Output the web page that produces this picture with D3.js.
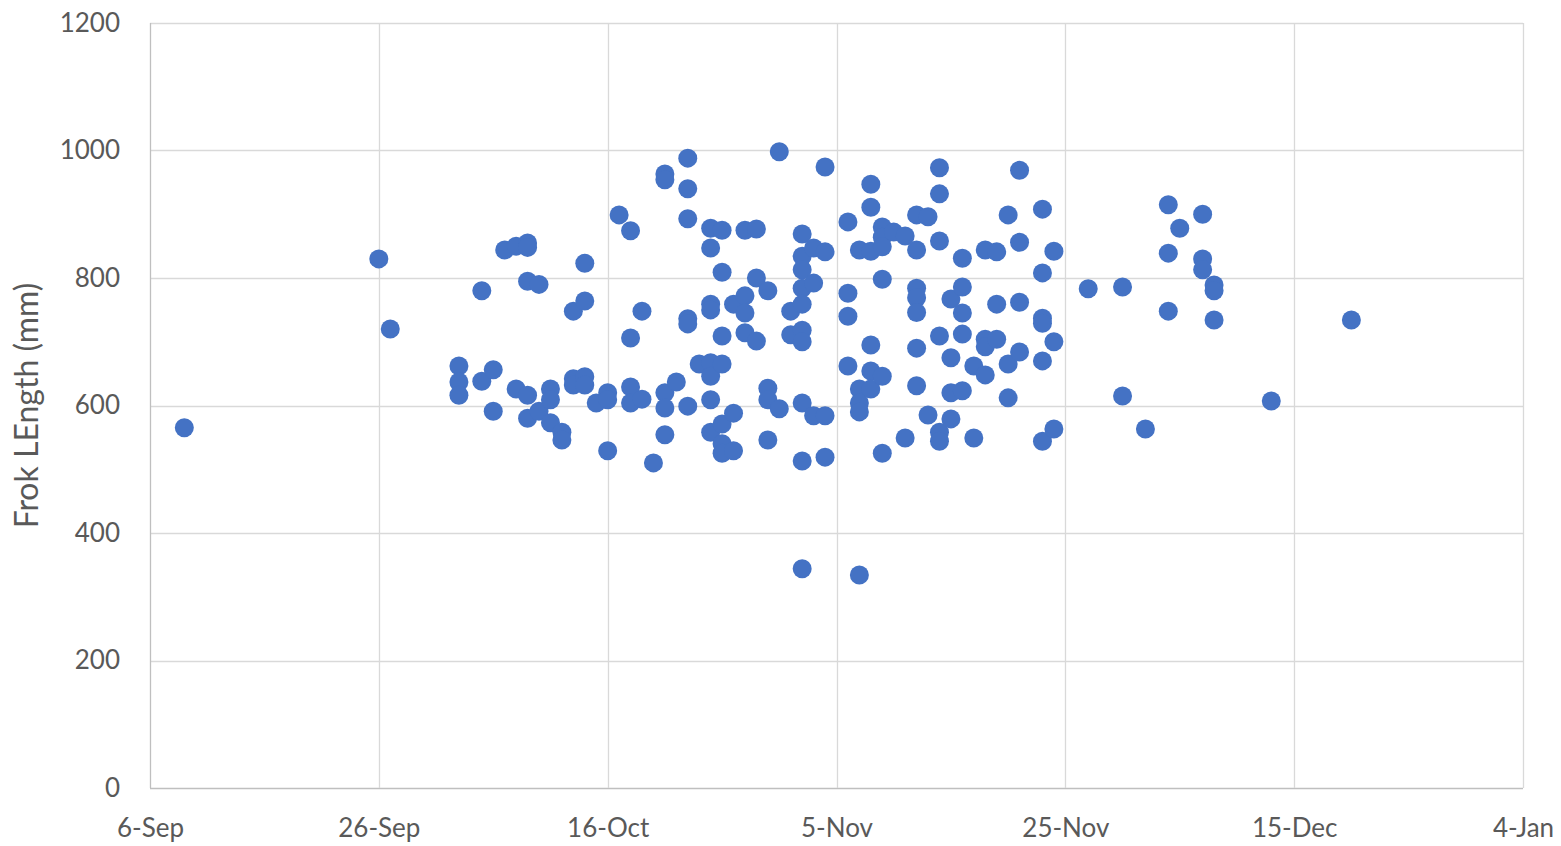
<!DOCTYPE html>
<html>
<head>
<meta charset="utf-8">
<script src="https://cdn.jsdelivr.net/npm/d3@7"></script>
<style>
  body { margin: 0; background: #fff; }
  text { font-family: Lato, "Open Sans", sans-serif; fill: #595959; }
</style>
</head>
<body>
<script>
// sample dates (one entry per day) and the fork lengths measured that day
var sampleDates = ["9-Sep", "26-Sep", "27-Sep", "3-Oct", "5-Oct", "6-Oct", "7-Oct", "8-Oct", "9-Oct",
    "10-Oct", "11-Oct", "12-Oct", "13-Oct", "14-Oct", "15-Oct", "16-Oct", "17-Oct", "18-Oct", "19-Oct",
    "20-Oct", "21-Oct", "22-Oct", "23-Oct", "24-Oct", "25-Oct", "26-Oct", "27-Oct", "28-Oct", "29-Oct",
    "30-Oct", "31-Oct", "1-Nov", "2-Nov", "3-Nov", "4-Nov", "6-Nov", "7-Nov", "8-Nov", "9-Nov",
    "10-Nov", "11-Nov", "12-Nov", "13-Nov", "14-Nov", "15-Nov", "16-Nov", "17-Nov", "18-Nov", "19-Nov",
    "20-Nov", "21-Nov", "23-Nov", "24-Nov", "27-Nov", "30-Nov", "2-Dec", "4-Dec", "5-Dec", "7-Dec",
    "8-Dec", "13-Dec", "20-Dec"];

var forkLengths = [
    [565], [830], [720], [662, 637, 616], [780, 638], [656, 591], [844], [850, 626],
    [855, 848, 795, 616, 580],
    [790, 591], [626, 609, 573], [558, 546], [748, 642, 632], [823, 764, 645, 632], [604],
    [620, 609, 529], [899], [874, 706, 629, 604], [748, 610],
    [510], [963, 954, 620, 596, 554], [637], [988, 940, 893, 736, 728, 599], [665],
    [878, 847, 759, 750, 667, 646, 609, 558], [875, 809, 709, 665, 571, 540, 525], [759, 588, 529],
    [875, 772, 745, 714], [877, 800, 701],
    [780, 627, 609, 546], [998, 595], [748, 711],
    [869, 834, 813, 784, 759, 718, 700, 604, 513, 344], [847, 792, 584], [974, 841, 584, 519],
    [888, 776, 740, 662], [844, 626, 604, 590, 334], [947, 911, 842, 695, 654, 626],
    [880, 864, 849, 798, 646, 525],
    [872], [866, 549], [899, 844, 784, 769, 746, 690, 631], [896, 585], [973, 932, 858, 709, 558, 544],
    [767, 675, 620, 579], [831, 786, 745, 712, 623], [662, 549], [844, 704, 692, 648], [841, 759, 704],
    [899, 665, 612], [969, 856, 762, 684], [908, 808, 737, 729, 670, 544], [842, 700, 563], [783],
    [786, 615], [563], [915, 839, 748], [878], [900, 830, 813],
    [789, 780, 734], [607], [734]];

var xStart = "6-Sep", xEnd = "4-Jan";
var yTicks = [0, 200, 400, 600, 800, 1000, 1200];
var yTitle = "Frok LEngth (mm)";

var parseDay = function(s) {
    // Jan belongs to the following year
    var yr = s.indexOf("Jan") > -1 ? 2019 : 2018;
    return d3.timeParse("%d-%b-%Y")(s + "-" + yr);
};

var points = [];
sampleDates.forEach(function(d, i) {
    forkLengths[i].forEach(function(v) {
        points.push({date: parseDay(d), value: v});
    });
});

var width = 1561, height = 846;
var plotLeft = 150, plotRight = 1523, plotTop = 23, plotBottom = 788;

var svg = d3.select("body").append("svg")
    .attr("width", width)
    .attr("height", height);

var x = d3.scaleTime()
    .domain([parseDay(xStart), parseDay(xEnd)])
    .range([plotLeft, plotRight]);

var y = d3.scaleLinear()
    .domain([0, 1200])
    .range([plotBottom, plotTop]);

var xTicks = d3.timeDay.range(parseDay(xStart), d3.timeDay.offset(parseDay(xEnd), 1))
    .filter(function(d, i) { return i % 20 == 0; });

// gridlines
svg.append("g").selectAll("line")
    .data(yTicks)
    .enter().append("line")
    .attr("x1", plotLeft).attr("x2", plotRight)
    .attr("y1", function(d) { return Math.round(y(d)) + 0.5; })
    .attr("y2", function(d) { return Math.round(y(d)) + 0.5; })
    .attr("stroke", function(d) { return d == 0 ? "#bfbfbf" : "#d9d9d9"; })
    .attr("stroke-width", 1.3);

svg.append("g").selectAll("line")
    .data(xTicks)
    .enter().append("line")
    .attr("x1", function(d) { return Math.round(x(d)) + 0.5; })
    .attr("x2", function(d) { return Math.round(x(d)) + 0.5; })
    .attr("y1", plotTop).attr("y2", plotBottom)
    .attr("stroke", function(d, i) { return i == 0 ? "#bfbfbf" : "#d9d9d9"; })
    .attr("stroke-width", 1.3);

// axes (labels only, Excel style)
var yAxis = svg.append("g")
    .attr("transform", "translate(" + (plotLeft - 30) + ",0)")
    .call(d3.axisLeft(y).tickValues(yTicks).tickFormat(d3.format("d")).tickSize(0).tickPadding(0));
yAxis.select(".domain").remove();
yAxis.selectAll("text").style("font-size", "26px").attr("fill", "#595959");

var xAxis = svg.append("g")
    .attr("transform", "translate(0," + (plotBottom + 31) + ")")
    .call(d3.axisBottom(x).tickValues(xTicks).tickFormat(d3.timeFormat("%-d-%b")).tickSize(0).tickPadding(0));
xAxis.select(".domain").remove();
xAxis.selectAll("text").style("font-size", "26px").attr("fill", "#595959");

svg.append("text")
    .attr("transform", "translate(38," + ((plotTop + plotBottom) / 2) + ") rotate(-90)")
    .attr("text-anchor", "middle")
    .style("font-size", "32px")
    .text(yTitle);

// points
svg.append("g").selectAll("circle")
    .data(points)
    .enter().append("circle")
    .attr("cx", function(d) { return x(d.date); })
    .attr("cy", function(d) { return y(d.value); })
    .attr("r", 9.5)
    .attr("fill", "#4472c4");
</script>
</body>
</html>
